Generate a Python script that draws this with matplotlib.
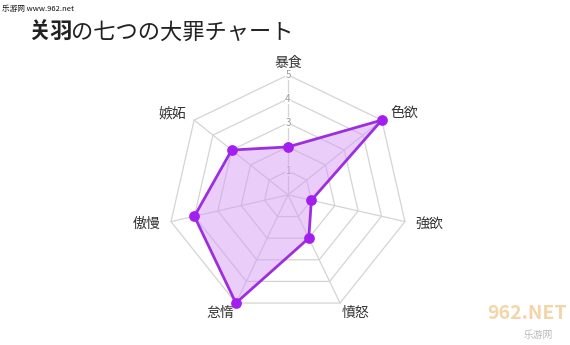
import matplotlib
matplotlib.use("Agg")
import matplotlib.pyplot as plt
import numpy as np

plt.rcParams['font.family'] = ['Noto Sans CJK JP', 'DejaVu Sans']

# data
categories = ['暴食', '色欲', '強欲', '憤怒', '怠惰', '傲慢', '嫉妬']
values = [2, 5, 1, 2, 5, 4, 3]
ticks = [1, 2, 3, 4, 5]

n = len(categories)
angles = np.linspace(0, 2 * np.pi, n, endpoint=False)

fig = plt.figure(figsize=(5.7, 3.45), dpi=100)
ax = fig.add_axes([0.2947, 0.087, 0.421, 0.696], projection='polar')
ax.set_theta_offset(np.pi / 2)
ax.set_theta_direction(-1)
ax.set_ylim(0, 5)
ax.grid(False)
ax.spines['polar'].set_visible(False)
ax.set_xticks([])
ax.set_yticks([])
ax.patch.set_alpha(0)

ang_c = np.append(angles, angles[0])

# polygon grid
for t in ticks:
    ax.plot(ang_c, [t] * (n + 1), color='#d4d4d4', lw=0.9, zorder=1, clip_on=False)
for a in angles:
    ax.plot([a, a], [0, 5], color='#d4d4d4', lw=0.9, zorder=1, clip_on=False)

# tick labels
for t in ticks:
    ax.text(0, t, str(t), ha='center', va='center', fontsize=7,
            color='#999999', zorder=2,
            bbox=dict(boxstyle='square,pad=0.05', fc='white', ec='none'))

# series
vals_c = values + values[:1]
ax.fill(ang_c, vals_c, color='#d69cf5', alpha=0.5, zorder=3, lw=0, clip_on=False)
ax.plot(ang_c, vals_c, color='#9b2fe0', lw=2, zorder=4, clip_on=False)
ax.scatter(angles, values, s=45, color='#a31ff0', zorder=5, clip_on=False)

# category labels
for a, lab in zip(angles, categories):
    s = np.sin(a)
    if abs(s) < 0.1:
        ha = 'center'
    elif s > 0:
        ha = 'left'
    else:
        ha = 'right'
    c = np.cos(a)
    r = 5.45
    va = 'center'
    if c > 0.9:
        va = 'bottom'
        r = 5.2
    elif c < -0.8:
        va = 'top'
        r = 5.15
    ax.text(a, r, lab, ha=ha, va=va, fontsize=10, color='#333333')

# title
fig.text(0.05, 0.905, '关羽', fontsize=16, fontweight='bold', color='#222222',
         va='center', ha='left')
fig.text(0.124, 0.905, 'の七つの大罪チャート', fontsize=16, color='#222222',
         va='center', ha='left')

# watermarks
fig.text(0.004, 0.975, '乐游网 www.962.net', fontsize=5.5, color='#111111',
         va='center', ha='left')
fig.text(0.995, 0.09, '962.NET', fontsize=14, fontweight='bold', color='#e8a040',
         alpha=0.45, va='center', ha='right')
fig.text(0.97, 0.03, '乐游网', fontsize=7, color='#999999', alpha=0.7,
         va='center', ha='right')

fig.savefig('out.png', dpi=100)
